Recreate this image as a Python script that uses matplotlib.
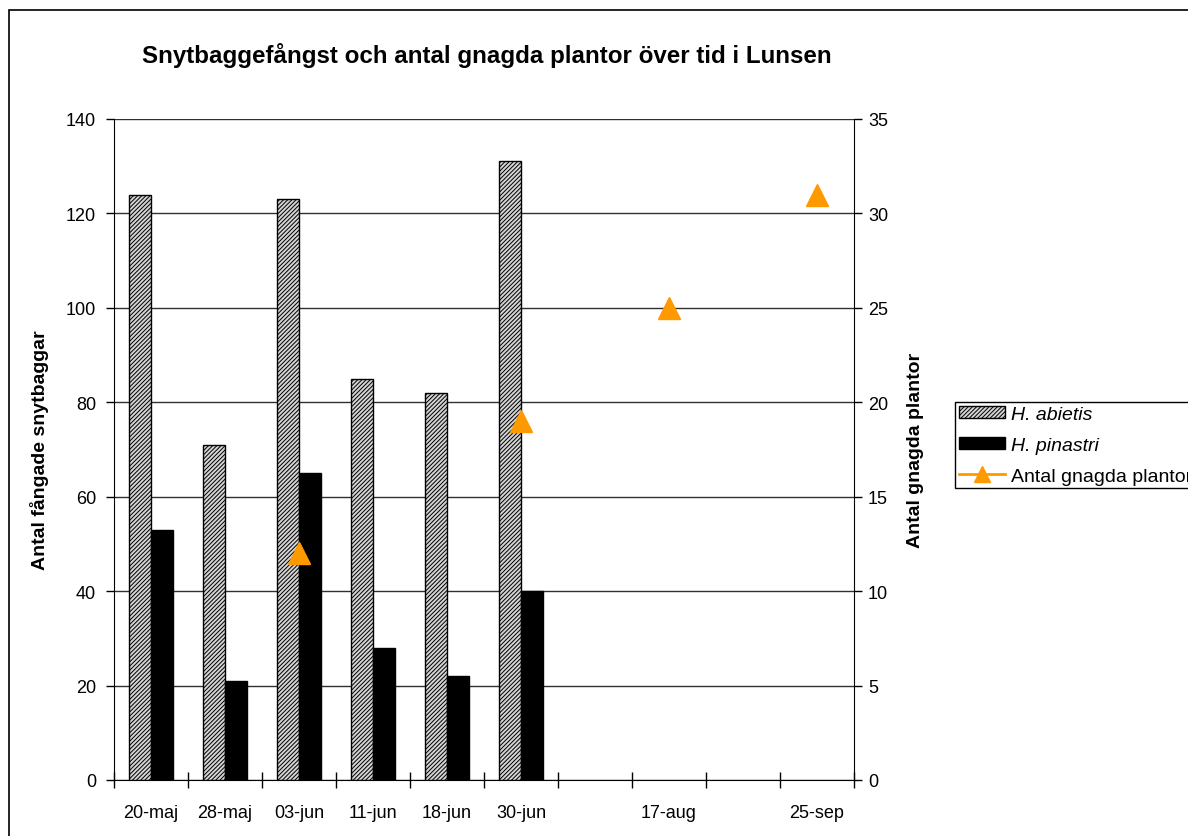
import matplotlib
matplotlib.use("Agg")
import matplotlib.pyplot as plt
import matplotlib.patches as mpatches
import numpy as np

plt.rcParams["font.family"] = ["Liberation Sans", "DejaVu Sans"]

# category axis (Excel style: two unlabeled slots between the later dates)
dates = ["20-maj", "28-maj", "03-jun", "11-jun", "18-jun", "30-jun", "", "17-aug", "", "25-sep"]
abietis = [124, 71, 123, 85, 82, 131, np.nan, np.nan, np.nan, np.nan]
pinastri = [53, 21, 65, 28, 22, 40, np.nan, np.nan, np.nan, np.nan]
gnagda = [np.nan, np.nan, 12, np.nan, np.nan, 19, np.nan, 25, np.nan, 31]

fig = plt.figure(figsize=(11.88, 8.37), dpi=100)
ax = fig.add_axes([114 / 1188, 1 - 781 / 837, 740 / 1188, 661 / 837])
ax2 = ax.twinx()

x = np.arange(len(dates)) + 0.5
w = 22 / 74

plt.rcParams["hatch.linewidth"] = 0.7
ax.bar(x - w / 2, abietis, w, facecolor="#d4d4d4", edgecolor="black",
       hatch="////////", linewidth=1.0, label="H. abietis", zorder=3)
ax.bar(x + w / 2, pinastri, w, facecolor="black", edgecolor="black",
       linewidth=1.0, label="H. pinastri", zorder=3)
ax2.plot(x, gnagda, color="#ff9900", marker="^", markersize=16, linewidth=2,
         label="Antal gnagda plantor", zorder=4)

ax.set_xlim(0, len(dates))
ax.set_ylim(0, 140)
ax2.set_ylim(0, 35)
ax.set_yticks(np.arange(0, 141, 20))
ax2.set_yticks(np.arange(0, 36, 5))

ax.set_xticks(np.arange(0, len(dates) + 1))
ax.set_xticklabels([])
ax.set_xticks(x, minor=True)
ax.set_xticklabels(dates, minor=True)
ax.tick_params(axis="x", which="major", direction="inout", length=12, width=1)
ax.tick_params(axis="x", which="minor", length=0, pad=17, labelsize=13)
ax.tick_params(axis="y", direction="out", length=6, width=1, labelsize=13, pad=7)
ax2.tick_params(axis="y", direction="out", length=6, width=1, labelsize=13, pad=4)

ax.yaxis.grid(True, color="#303030", linewidth=1.0, zorder=0)
ax.set_axisbelow(True)
ax.spines["top"].set_visible(False)
ax2.spines["top"].set_visible(False)
ax2.spines["left"].set_visible(False)
ax2.spines["bottom"].set_visible(False)
ax.spines["right"].set_visible(False)

ax.set_ylabel("Antal fångade snytbaggar", fontsize=14, fontweight="bold", labelpad=12)
ax2.set_ylabel("Antal gnagda plantor", fontsize=14, fontweight="bold", labelpad=14)

fig.text(487 / 1188, 1 - 55 / 837,
         "Snytbaggefångst och antal gnagda plantor över tid i Lunsen",
         ha="center", va="center", fontsize=17.4, fontweight="bold")

h1, l1 = ax.get_legend_handles_labels()
h2, l2 = ax2.get_legend_handles_labels()
leg = fig.legend(h1 + h2, l1 + l2, loc="upper left",
                 bbox_to_anchor=(955 / 1188, 1 - 403 / 837),
                 fontsize=14, frameon=True, fancybox=False, framealpha=1,
                 edgecolor="black", handlelength=2.4, handleheight=0.6,
                 handletextpad=0.3, markerscale=0.7,
                 labelspacing=0.73, borderpad=0.18, borderaxespad=0)
leg.get_frame().set_linewidth(1.0)
leg.get_texts()[0].set_style("italic")
leg.get_texts()[1].set_style("italic")

# outer chart-area border (runs off the right and bottom edges)
border = mpatches.Rectangle((9 / 1188, -0.1), 1.2, 1 - 11 / 837 + 0.1,
                            transform=fig.transFigure, fill=False,
                            edgecolor="black", linewidth=1.2)
fig.patches.append(border)

fig.savefig("out.png", dpi=100)
